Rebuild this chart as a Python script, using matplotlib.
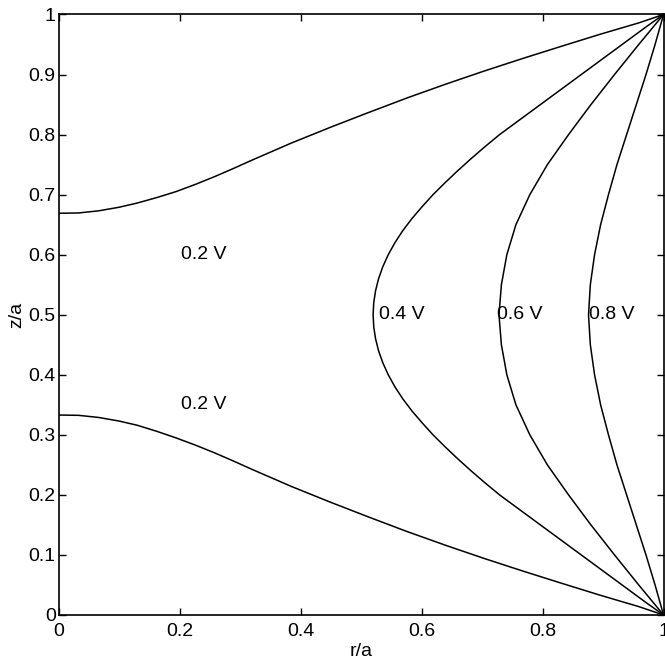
import numpy as np
import matplotlib.pyplot as plt
from matplotlib.ticker import FormatStrFormatter

plt.rcParams['font.family'] = ['Liberation Sans', 'DejaVu Sans']

# equipotential lines (r/a, z/a)
r_02_top = [0.0, 0.033, 0.066, 0.100, 0.130, 0.162, 0.194, 0.226, 0.258, 0.290, 0.321, 0.385, 0.449,
            0.513, 0.576, 0.640, 0.704, 0.768, 0.831, 0.895, 0.959, 1.0]
z_02_top = [0.669, 0.6695, 0.673, 0.679, 0.686, 0.695, 0.705, 0.717, 0.730, 0.744, 0.758, 0.786, 0.812,
            0.837, 0.861, 0.884, 0.906, 0.927, 0.947, 0.967, 0.986, 1.0]

r_02_bot = [0.0, 0.033, 0.066, 0.100, 0.130, 0.162, 0.194, 0.226, 0.258, 0.290, 0.321, 0.385, 0.449,
            0.513, 0.576, 0.640, 0.704, 0.768, 0.831, 0.895, 0.959, 1.0]
z_02_bot = [0.333, 0.3325, 0.329, 0.323, 0.316, 0.306, 0.295, 0.283, 0.270, 0.256, 0.242, 0.214, 0.188,
            0.163, 0.139, 0.116, 0.094, 0.073, 0.053, 0.033, 0.014, 0.0]

z_04 = [1.0, 0.98, 0.96, 0.94, 0.92, 0.90, 0.88, 0.86, 0.84, 0.82, 0.80, 0.78, 0.76, 0.74, 0.72,
        0.70, 0.68, 0.66, 0.64, 0.62, 0.60, 0.58, 0.56, 0.54, 0.52, 0.50,
        0.48, 0.46, 0.44, 0.42, 0.40, 0.38, 0.36, 0.34, 0.32, 0.30, 0.28, 0.26, 0.24, 0.22, 0.20,
        0.18, 0.16, 0.14, 0.12, 0.10, 0.08, 0.06, 0.04, 0.02, 0.0]
r_04 = [1.0, 0.972, 0.945, 0.918, 0.891, 0.864, 0.837, 0.810, 0.783, 0.756, 0.729, 0.705, 0.682,
        0.660, 0.639, 0.619, 0.601, 0.584, 0.569, 0.556, 0.545, 0.536, 0.529, 0.524, 0.521, 0.520,
        0.521, 0.524, 0.529, 0.536, 0.545, 0.556, 0.569, 0.584, 0.601, 0.619, 0.639, 0.660, 0.682,
        0.705, 0.729, 0.756, 0.783, 0.810, 0.837, 0.864, 0.891, 0.918, 0.945, 0.972, 1.0]

z_06 = [1.0, 0.95, 0.90, 0.85, 0.80, 0.75, 0.70, 0.65, 0.60, 0.55, 0.50,
        0.45, 0.40, 0.35, 0.30, 0.25, 0.20, 0.15, 0.10, 0.05, 0.0]
r_06 = [1.0, 0.959, 0.919, 0.880, 0.843, 0.808, 0.779, 0.756, 0.741, 0.732, 0.728,
        0.732, 0.741, 0.756, 0.779, 0.808, 0.843, 0.880, 0.919, 0.959, 1.0]

z_08 = [1.0, 0.95, 0.90, 0.85, 0.80, 0.75, 0.70, 0.65, 0.60, 0.55, 0.50,
        0.45, 0.40, 0.35, 0.30, 0.25, 0.20, 0.15, 0.10, 0.05, 0.0]
r_08 = [1.0, 0.986, 0.971, 0.955, 0.939, 0.923, 0.909, 0.896, 0.886, 0.879, 0.876,
        0.879, 0.886, 0.896, 0.909, 0.923, 0.939, 0.955, 0.971, 0.986, 1.0]

labels = ['0.2 V', '0.2 V', '0.4 V', '0.6 V', '0.8 V']
label_r = [0.203, 0.203, 0.529, 0.724, 0.877]
label_z = [0.600, 0.350, 0.500, 0.500, 0.500]

yticks = [0, 0.1, 0.2, 0.3, 0.4, 0.5, 0.6, 0.7, 0.8, 0.9, 1]
xticks = [0, 0.2, 0.4, 0.6, 0.8, 1]

fig = plt.figure(figsize=(6.65, 6.65), dpi=100)
ax = fig.add_axes([0.088, 0.0752, 0.9098, 0.903])

for r, z in [(r_02_top, z_02_top), (r_02_bot, z_02_bot), (r_04, z_04), (r_06, z_06), (r_08, z_08)]:
    ax.plot(r, z, color='black', linewidth=1.1)

for txt, r, z in zip(labels, label_r, label_z):
    ax.text(r, z, txt, fontsize=14, ha='left', va='center')

ax.set_xlim(0, 1)
ax.set_ylim(0, 1)
ax.set_xticks(xticks)
ax.set_yticks(yticks)
ax.xaxis.set_major_formatter(FormatStrFormatter('%g'))
ax.yaxis.set_major_formatter(FormatStrFormatter('%g'))
ax.tick_params(direction='in', length=5, width=1, top=True, right=True, labelsize=14)
ax.tick_params(axis='x', pad=6)
ax.tick_params(axis='y', pad=2)
for s in ax.spines.values():
    s.set_linewidth(1.2)

ax.set_xlabel('r/a', fontsize=14, labelpad=2)
ax.set_ylabel('z/a', fontsize=14, labelpad=2)

fig.savefig('out.png', dpi=100)
